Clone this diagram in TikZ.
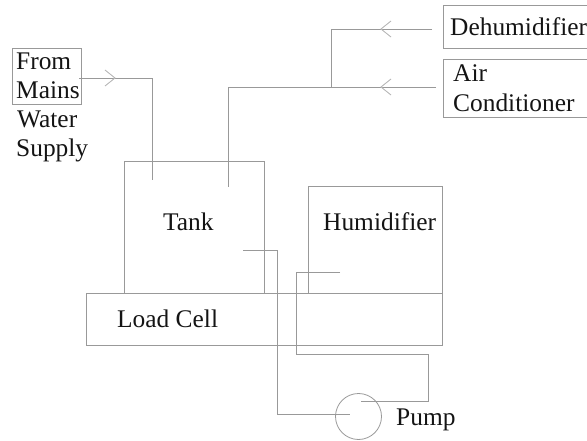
\documentclass[tikz,border=0pt]{standalone}
\usepackage{fontspec}
\setmainfont{Liberation Serif}
\definecolor{lineg}{gray}{0.6}
\definecolor{chev}{gray}{0.72}
\definecolor{txt}{gray}{0.08}
\tikzset{
  boxn/.style={draw=lineg,line width=0.9pt,rectangle,inner sep=0pt,anchor=north west},
  pipe/.style={draw=lineg,line width=0.9pt},
  chevron/.style={draw=chev,line width=0.9pt},
  lab/.style={inner sep=0pt,anchor=base west,text=txt,font=\fontsize{25.4}{29}\selectfont}
}
\begin{document}
\begin{tikzpicture}[x=1pt,y=-1pt]
\useasboundingbox (0,0) rectangle (587,441);
% boxes
\node[boxn,minimum width=69pt,minimum height=56pt] (mains) at (11.5,48) {};
\node[boxn,minimum width=144pt,minimum height=43pt] (dehum) at (443,5.5) {};
\node[boxn,minimum width=144pt,minimum height=58pt] (air) at (443,59) {};
\node[boxn,minimum width=140pt,minimum height=132pt] (tank) at (124,161) {};
\node[boxn,minimum width=134.5pt,minimum height=107pt] (humid) at (307.5,186) {};
\node[boxn,minimum width=356pt,minimum height=52.5pt] (load) at (86,292.5) {};
\node[draw=lineg,line width=0.8pt,circle,inner sep=0pt,minimum size=46pt] (pump) at (358.5,416.5) {};
% labels
\node[lab] (t1) at (16,70) {From};
\node[lab] (t2) at (16,99) {Mains};
\node[lab] (t3) at (17,128) {Water};
\node[lab] (t4) at (16,157) {Supply};
\node[lab] (t5) at (450,36) {Dehumidifier};
\node[lab] (t6) at (453,82) {Air};
\node[lab] (t7) at (453,112) {Conditioner};
\node[lab] (t8) at (163,231) {Tank};
\node[lab] (t9) at (323,231) {Humidifier};
\node[lab] (t10) at (117,327) {Load Cell};
\node[lab] (t11) at (396,425) {Pump};
% free ends
\coordinate (a0) at (79,78);
\coordinate (a1) at (152,78);
\coordinate (a2) at (152,180);
\coordinate (b0) at (436,87);
\coordinate (b1) at (228,87);
\coordinate (b2) at (228,187);
\coordinate (c0) at (432,29);
\coordinate (c1) at (331,29);
\coordinate (c2) at (331,87);
\coordinate (d0) at (243,250);
\coordinate (d1) at (277,250);
\coordinate (d2) at (277,414);
\coordinate (d3) at (350,414);
\coordinate (e0) at (340,272);
\coordinate (e1) at (296,272);
\coordinate (e2) at (296,354.5);
\coordinate (e3) at (428,354.5);
\coordinate (e4) at (428,401);
\coordinate (e5) at (361,401);
% pipes
\draw[pipe] (a0) -- (a1) -- (a2);
\draw[pipe] (b0) -- (b1) -- (b2);
\draw[pipe] (c0) -- (c1) -- (c2);
\draw[pipe] (d0) -- (d1) -- (d2) -- (d3);
\draw[pipe] (e0) -- (e1) -- (e2) -- (e3) -- (e4) -- (e5);
% chevrons
\coordinate (h1) at (115,78);
\coordinate (h2) at (381,29);
\coordinate (h3) at (381,87);
\draw[chevron] ([shift={(-10pt,8pt)}]h1) -- (h1) -- ([shift={(-10pt,-8pt)}]h1);
\draw[chevron] ([shift={(10pt,8pt)}]h2) -- (h2) -- ([shift={(10pt,-8pt)}]h2);
\draw[chevron] ([shift={(10pt,8pt)}]h3) -- (h3) -- ([shift={(10pt,-8pt)}]h3);
\end{tikzpicture}
\end{document}
